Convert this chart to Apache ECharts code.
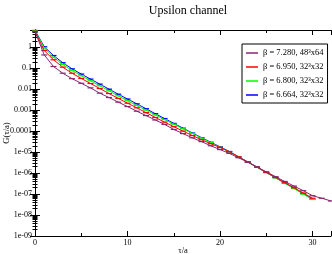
<!DOCTYPE html>
<html>
<head>
<meta charset="utf-8">
<script src="https://cdn.jsdelivr.net/npm/echarts@6/dist/echarts.min.js"></script>
<style>html,body{margin:0;padding:0;background:#fff}#c{width:332px;height:254px}</style>
</head>
<body>
<div id="c"></div>
<script>
var tau = [0,1,2,3,4,5,6,7,8,9,10,11,12,13,14,15,16,17,18,19,20,21,22,23,24,25,26,27,28,29,30,31,32];
var seriesNames = ['β = 7.280, 48³x64','β = 6.950, 32³x32','β = 6.800, 32³x32','β = 6.664, 32³x32'];
var colors = ['#8b2570','#ff0000','#00ff00','#0000ff'];
var g7280 = [5.5,4.27e-1,1.20e-1,5.75e-2,3.16e-2,1.91e-2,1.15e-2,6.46e-3,3.98e-3,2.40e-3,1.48e-3,8.91e-4,5.50e-4,3.39e-4,2.09e-4,1.20e-4,7.59e-5,4.79e-5,3.16e-5,2.0e-5,1.32e-5,8.71e-6,5.37e-6,3.31e-6,1.95e-6,1.15e-6,6.76e-7,3.98e-7,2.40e-7,1.45e-7,8.32e-8,6.31e-8,4.68e-8];
var g6950 = [5.75,6.92e-1,2.51e-1,1.12e-1,5.75e-2,3.24e-2,1.86e-2,1.07e-2,6.17e-3,3.63e-3,2.14e-3,1.29e-3,7.59e-4,4.47e-4,2.69e-4,1.62e-4,1.0e-4,6.17e-5,3.89e-5,2.51e-5,1.66e-5,1.05e-5,5.89e-6,3.39e-6,1.91e-6,1.07e-6,6.17e-7,3.47e-7,2.0e-7,1.12e-7,6.31e-8];
var g6800 = [6.03,9.3e-1,3.31e-1,1.51e-1,7.76e-2,4.37e-2,2.51e-2,1.45e-2,8.32e-3,4.79e-3,2.82e-3,1.66e-3,1.0e-3,5.89e-4,3.55e-4,2.14e-4,1.29e-4,7.76e-5,4.68e-5,2.82e-5,1.70e-5,1.02e-5,5.89e-6,3.31e-6,1.86e-6,1.05e-6,5.89e-7,3.24e-7,1.82e-7,1.0e-7,5.5e-8];
var g6664 = [6.3,1.05,4.0e-1,1.82e-1,9.3e-2,5.25e-2,3.02e-2,1.74e-2,1.0e-2,5.75e-3,3.39e-3,2.0e-3,1.17e-3,6.76e-4,3.98e-4,2.34e-4,1.38e-4,8.13e-5,4.9e-5,2.95e-5,1.78e-5,1.07e-5,6.03e-6,3.39e-6,1.91e-6,1.07e-6,6.03e-7,3.39e-7,1.91e-7,1.05e-7,5.62e-8];
var xTickLabels = ['0','10','20','30'];
var yTickLabels = ['1','0.1','0.01','0.001','0.0001','1e-05','1e-06','1e-07','1e-08','1e-09'];
var allData = [g7280, g6950, g6800, g6664];

var FONT = 'Liberation Serif';
function pairs(arr){ return arr.map(function(v,i){ return [tau[i], v]; }); }
function yFmt(v){
  var e = Math.round(Math.log10(v));
  if (Math.abs(Math.log10(v) - e) > 1e-6) return '';
  var idx = -e;
  return (idx >= 0 && idx < yTickLabels.length) ? yTickLabels[idx] : '';
}
var lineBlack = {color:'#000', width:1};
var chart = echarts.init(document.getElementById('c'), null, {renderer:'canvas'});
var series = allData.map(function(d,i){
  return {
    name: seriesNames[i], type:'line', data: pairs(d),
    xAxisIndex:0, yAxisIndex:0,
    symbol:'rect', symbolSize:[6,1.2], showSymbol:true, showAllSymbol:true,
    lineStyle:{color:colors[i], width:1}, itemStyle:{color:colors[i]},
    z: 10 - i, animation:false
  };
});
chart.setOption({
  animation:false,
  title:{text:'Upsilon channel', left:183, top:0, textAlign:'center',
    textStyle:{fontFamily:FONT, fontSize:12, fontWeight:'normal', color:'#000'}},
  grid:{left:35, right:1, top:30, bottom:18, containLabel:false, outerBoundsMode:'none'},
  legend:{orient:'vertical', left:242, top:44, padding:[4,4,3,4], itemGap:4,
    itemWidth:12, itemHeight:1.5, icon:'rect', borderColor:'#000', borderWidth:1, backgroundColor:'#fff',
    textStyle:{fontFamily:FONT, fontSize:8.5, color:'#000', lineHeight:10},
    data: seriesNames.map(function(n,i){return {name:n, itemStyle:{color:colors[i]}};})},
  xAxis:[
    {type:'value', position:'bottom', min:0, max:32, interval:10,
      axisLine:{show:true,lineStyle:lineBlack},
      axisTick:{show:true,inside:true,length:5,lineStyle:lineBlack},
      minorTick:{show:true,splitNumber:2,length:3,lineStyle:lineBlack},
      splitLine:{show:false},
      axisLabel:{fontFamily:FONT, fontSize:8, color:'#000', margin:3,
        formatter:function(v){ var s=String(v); return xTickLabels.indexOf(s)>=0?s:''; }},
      name:'τ/a', nameLocation:'middle', nameGap:10, nameMoveOverlap:false,
      nameTextStyle:{fontFamily:FONT, fontSize:8.5, color:'#000'}},
    {type:'value', position:'top', min:0, max:32, interval:10,
      axisLine:{show:true,lineStyle:lineBlack},
      axisTick:{show:true,inside:true,length:5,lineStyle:lineBlack},
      minorTick:{show:true,splitNumber:2,length:3,lineStyle:lineBlack},
      axisLabel:{show:false}, splitLine:{show:false}}
  ],
  yAxis:[
    {type:'log', logBase:10, min:1e-9, max:6.6, position:'left',
      axisLine:{show:true,lineStyle:lineBlack},
      axisTick:{show:true,inside:true,length:5,lineStyle:lineBlack},
      minorTick:{show:true,splitNumber:9,length:2.5,lineStyle:lineBlack},
      splitLine:{show:false},
      axisLabel:{fontFamily:FONT, fontSize:8, color:'#000', margin:3, formatter:yFmt},
      name:'G(τ/a)', nameLocation:'middle', nameGap:24, nameRotate:90, nameMoveOverlap:false,
      nameTextStyle:{fontFamily:FONT, fontSize:8.5, color:'#000'}},
    {type:'log', logBase:10, min:1e-9, max:6.6, position:'right',
      axisLine:{show:true,lineStyle:lineBlack},
      axisTick:{show:true,inside:true,length:5,lineStyle:lineBlack},
      minorTick:{show:true,splitNumber:9,length:2.5,lineStyle:lineBlack},
      splitLine:{show:false}, axisLabel:{show:false}}
  ],
  series: series
});
</script>
</body>
</html>
